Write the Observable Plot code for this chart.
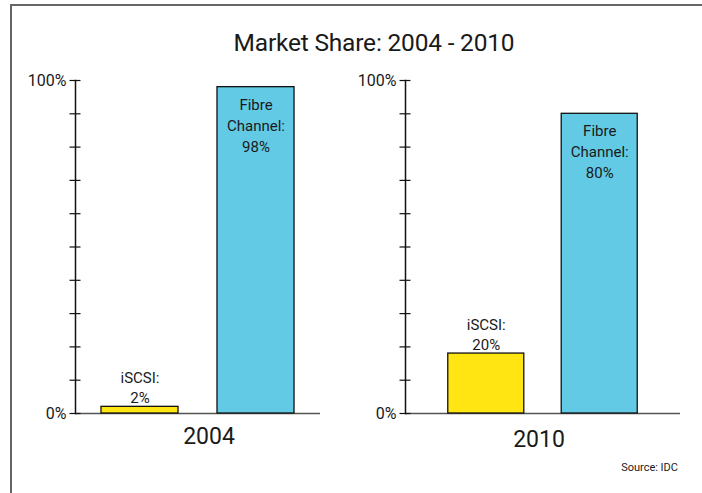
<!DOCTYPE html>
<html>
<head>
<meta charset="utf-8">
<script src="https://cdn.jsdelivr.net/npm/d3@7"></script>
<script src="https://cdn.jsdelivr.net/npm/@observablehq/plot@0.6"></script>
<style>
  html, body { margin: 0; padding: 0; background: #fff; overflow: hidden; }
  #wrap { position: relative; width: 702px; height: 493px; font-family: Roboto, "Noto Sans", sans-serif; color: #1a1a1a; }
  #frame { position: absolute; left: 10px; top: 4px; width: 720px; height: 520px; border-top: 2px solid #666; border-left: 2px solid #666; }
  .panel { position: absolute; left: 0; top: 0; }
  #title { position: absolute; left: 23px; width: 702px; top: 28px; text-align: center; font-size: 24.5px; line-height: 30px; letter-spacing: -0.2px; }
  #source { position: absolute; right: 24px; top: 460px; font-size: 11px; line-height: 16px; }
</style>
</head>
<body>
<div id="wrap">
  <div id="frame"></div>
  <div id="title">Market Share: 2004 - 2010</div>
  <div id="p1" class="panel"></div>
  <div id="p2" class="panel"></div>
  <div id="source">Source: IDC</div>
</div>
<script>
// ---- data ----
const categories = ["iSCSI", "Fibre Channel"];
const years = ["2004", "2010"];
const heights2004 = [2, 98];     // bar heights as drawn (%)
const heights2010 = [18, 90];    // bar heights as drawn (%)
const labels2004 = ["iSCSI:\n2%", "Fibre\nChannel:\n98%"];
const labels2010 = ["iSCSI:\n20%", "Fibre\nChannel:\n80%"];
const yTicks = d3.range(0, 101, 10);
const yLabelTicks = [0, 100];
const colors = ["#FFE512", "#62CAE5"];

function panel(year, heights, labels, opts) {
  const data = categories.map((c, i) => ({cat: c, v: heights[i], label: labels[i], color: colors[i]}));
  return Plot.plot({
    width: 702,
    height: 493,
    marginTop: 80,
    marginBottom: 80,
    marginLeft: opts.left,
    marginRight: 702 - opts.right,
    style: {background: "transparent", fontFamily: "Roboto, 'Noto Sans', sans-serif", color: "#1a1a1a", overflow: "visible"},
    x: {domain: categories, paddingInner: opts.pi, paddingOuter: opts.po, round: false, axis: null},
    y: {domain: [0, 100], label: null},
    marks: [
      Plot.ruleY([0], {stroke: "#555", strokeWidth: 1.6}),
      Plot.barY(data, {x: "cat", y: "v", fill: "color", stroke: "#111", strokeWidth: 1.3}),
      Plot.frame({anchor: "left", stroke: "#111", strokeWidth: 1.5}),
      Plot.axisY({ticks: yTicks, tickSize: 11, dx: 5.5, tickFormat: () => "", label: null, stroke: "#111", strokeWidth: 1.2}),
      Plot.axisY({ticks: yLabelTicks, tickSize: 0, tickPadding: 9, tickFormat: d => d + "%", label: null, fontSize: 16, fill: "#1a1a1a"}),
      Plot.text(data.filter(d => d.cat === "iSCSI"), {x: "cat", y: "v", text: "label", lineAnchor: "bottom", dy: -4, fontSize: 15, lineHeight: 1.33, fill: "#1a1a1a"}),
      Plot.text(data.filter(d => d.cat !== "iSCSI"), {x: "cat", y: "v", text: "label", lineAnchor: "top", dy: 7.5, fontSize: 15, lineHeight: 1.4, fill: "#1a1a1a"}),
      Plot.text([year], {text: d => d, frameAnchor: "bottom", dx: opts.ydx, dy: opts.ydy, fontSize: 23, fill: "#1a1a1a"})
    ]
  });
}

document.getElementById("p1").append(panel(years[0], heights2004, labels2004, {left: 75, right: 320, pi: 0.336, po: 0.224, ydx: 11, ydy: 30}));
document.getElementById("p2").append(panel(years[1], heights2010, labels2010, {left: 405, right: 680, pi: 0.33, po: 0.377, ydx: -4, ydy: 33}));
</script>
</body>
</html>
